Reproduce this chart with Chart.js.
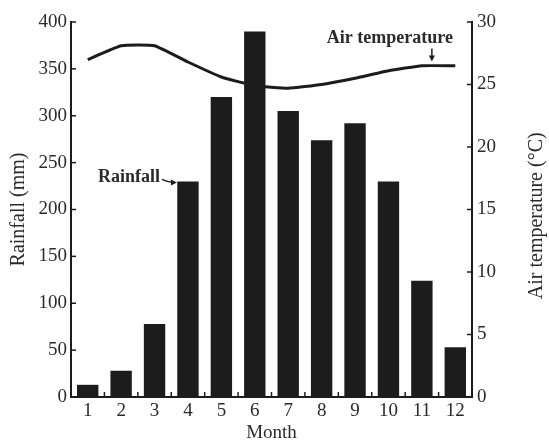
<!DOCTYPE html>
<html>
<head>
<meta charset="utf-8">
<script src="https://cdn.jsdelivr.net/npm/chart.js@4/dist/chart.umd.min.js"></script>
<style>
  html, body { margin: 0; padding: 0; background: #ffffff; }
  #wrap { width: 549px; height: 440px; }
</style>
</head>
<body>
<div id="wrap"><canvas id="c" width="549" height="440"></canvas></div>
<script>
const months = ['1','2','3','4','5','6','7','8','9','10','11','12'];
const rainfall = [13, 28, 78, 230, 320, 390, 305, 274, 292, 230, 124, 53];
const airTemperature = [27.0, 28.1, 28.1, 26.8, 25.6, 24.9, 24.7, 25.0, 25.5, 26.1, 26.5, 26.5];
const rainTicks = [0, 50, 100, 150, 200, 250, 300, 350, 400];
const tempTicks = [0, 5, 10, 15, 20, 25, 30];

const INK = '#1c1c1c';
const TXT = '#2a2a2a';
const FONT = '"Liberation Serif", "DejaVu Serif", serif';

const decor = {
  id: 'decor',
  afterDraw(chart) {
    const ctx = chart.ctx;
    const x = chart.scales.x, y = chart.scales.y, y1 = chart.scales.y1;
    const area = chart.chartArea;
    ctx.save();
    ctx.strokeStyle = INK;
    ctx.fillStyle = TXT;
    ctx.lineWidth = 1.5;
    // inward ticks on left axis
    rainTicks.forEach(v => {
      const py = y.getPixelForValue(v);
      ctx.beginPath(); ctx.moveTo(area.left, py); ctx.lineTo(area.left + 5, py); ctx.stroke();
    });
    // inward ticks on right axis
    tempTicks.forEach(v => {
      const py = y1.getPixelForValue(v);
      ctx.beginPath(); ctx.moveTo(area.right, py); ctx.lineTo(area.right - 5, py); ctx.stroke();
    });
    // inward ticks between months
    for (let i = 0; i < months.length - 1; i++) {
      const px = (x.getPixelForValue(i) + x.getPixelForValue(i + 1)) / 2;
      ctx.beginPath(); ctx.moveTo(px, area.bottom); ctx.lineTo(px, area.bottom - 5); ctx.stroke();
    }
    // right axis title (reading bottom to top)
    ctx.font = '20px ' + FONT;
    ctx.textAlign = 'center';
    ctx.textBaseline = 'middle';
    ctx.save();
    ctx.translate(537, y1.getPixelForValue(14.5));
    ctx.rotate(-Math.PI / 2);
    ctx.fillText('Air temperature (\u00B0C)', 0, 0);
    ctx.restore();
    // "Air temperature" annotation with down arrow
    const ax = x.getPixelForValue(10) + 10;
    const ay = y1.getPixelForValue(26.6);
    ctx.font = 'bold 18px ' + FONT;
    ctx.fillText('Air temperature', ax - 42, y1.getPixelForValue(28.7));
    ctx.fillStyle = INK;
    ctx.lineWidth = 1.5;
    ctx.beginPath(); ctx.moveTo(ax, ay - 16); ctx.lineTo(ax, ay - 6); ctx.stroke();
    ctx.beginPath(); ctx.moveTo(ax - 3, ay - 9); ctx.lineTo(ax, ay - 3); ctx.lineTo(ax + 3, ay - 9); ctx.closePath(); ctx.fill();
    // "Rainfall" annotation with arrow
    const bx = x.getPixelForValue(3) - 10;
    const by = y.getPixelForValue(230);
    ctx.fillStyle = TXT;
    ctx.font = 'bold 18px ' + FONT;
    ctx.textAlign = 'right';
    ctx.fillText('Rainfall', bx - 18, by - 4);
    ctx.fillStyle = INK;
    ctx.beginPath(); ctx.moveTo(bx - 16, by - 2); ctx.quadraticCurveTo(bx - 10, by + 1, bx - 4, by + 1); ctx.stroke();
    ctx.beginPath(); ctx.moveTo(bx - 1, by + 1); ctx.lineTo(bx - 7, by - 2); ctx.lineTo(bx - 7, by + 4); ctx.closePath(); ctx.fill();
    ctx.restore();
  }
};

new Chart(document.getElementById('c'), {
  data: {
    labels: months,
    datasets: [
      {
        type: 'line',
        label: 'Air temperature',
        data: airTemperature,
        yAxisID: 'y1',
        borderColor: INK,
        borderWidth: 3,
        pointRadius: 0,
        tension: 0.12,
        order: 0
      },
      {
        type: 'bar',
        label: 'Rainfall',
        data: rainfall,
        yAxisID: 'y',
        backgroundColor: INK,
        borderWidth: 0,
        barPercentage: 0.64,
        categoryPercentage: 1.0,
        order: 1
      }
    ]
  },
  options: {
    responsive: false,
    animation: false,
    layout: { padding: { top: 22, left: 0, right: 0, bottom: 0 } },
    plugins: { legend: { display: false }, tooltip: { enabled: false } },
    scales: {
      x: {
        offset: true,
        grid: { display: false, drawTicks: false },
        border: { display: true, color: INK, width: 2 },
        ticks: { color: TXT, font: { family: FONT, size: 19 }, padding: 3, maxRotation: 0 },
        title: { display: true, text: 'Month', color: TXT, font: { family: FONT, size: 19 }, padding: { top: 0, bottom: -4 } },
        afterFit(s) { s.height = 43; }
      },
      y: {
        position: 'left',
        min: 0, max: 400,
        afterBuildTicks(s) { s.ticks = rainTicks.map(v => ({ value: v })); },
        grid: { display: false, drawTicks: false },
        border: { display: true, color: INK, width: 2 },
        ticks: { color: TXT, font: { family: FONT, size: 19 }, padding: 4 },
        title: { display: true, text: 'Rainfall (mm)', color: TXT, font: { family: FONT, size: 20 }, padding: { top: 7, bottom: 0 } },
        afterFit(s) { s.width = 71; }
      },
      y1: {
        position: 'right',
        min: 0, max: 30,
        afterBuildTicks(s) { s.ticks = tempTicks.map(v => ({ value: v })); },
        grid: { display: false, drawTicks: false },
        border: { display: true, color: INK, width: 2 },
        ticks: { color: TXT, font: { family: FONT, size: 19 }, padding: 5 },
        afterFit(s) { s.width = 77; }
      }
    }
  },
  plugins: [decor]
});
</script>
</body>
</html>
